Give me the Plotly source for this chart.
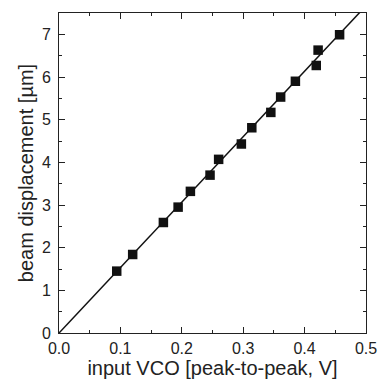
import plotly.graph_objects as go

vco = [0.094, 0.120, 0.170, 0.194, 0.214, 0.246, 0.260, 0.297, 0.314, 0.345, 0.361, 0.385, 0.419, 0.422, 0.457]
disp = [1.45, 1.84, 2.59, 2.95, 3.32, 3.70, 4.07, 4.43, 4.81, 5.17, 5.53, 5.90, 6.27, 6.63, 6.99]
fit_x = [0.0, 0.5]
fit_y = [0.0, 7.67]

fig = go.Figure()
fig.add_trace(go.Scatter(x=fit_x, y=fit_y, mode="lines",
                         line=dict(color="#111111", width=1.5), showlegend=False))
fig.add_trace(go.Scatter(x=vco, y=disp, mode="markers",
                         marker=dict(symbol="square", size=9.5, color="#111111",
                                     line=dict(width=0)), showlegend=False, cliponaxis=False))

font = dict(family="Liberation Sans, Arial, sans-serif", color="#222222")
fig.update_layout(
    width=389, height=386,
    margin=dict(l=59, r=18, t=12, b=53),
    paper_bgcolor="white", plot_bgcolor="white",
    font=dict(size=16, **font),
    xaxis=dict(range=[0, 0.5], tickvals=[0, 0.1, 0.2, 0.3, 0.4, 0.5],
               ticktext=["0.0", "0.1", "0.2", "0.3", "0.4", "0.5"],
               ticks="inside", ticklen=6, tickwidth=1, tickcolor="#222",
               minor=dict(dtick=0.05, ticks="inside", ticklen=3, tickcolor="#222"),
               showline=True, linecolor="#222", linewidth=1, mirror="ticks",
               showgrid=False, zeroline=False, ticklabelstandoff=1,
               title=dict(text="input VCO [peak-to-peak, V]", font=dict(size=20), standoff=1),
               tickfont=dict(size=16)),
    yaxis=dict(range=[0, 7.5], tickvals=[0, 1, 2, 3, 4, 5, 6, 7],
               ticks="inside", ticklen=6, tickwidth=1, tickcolor="#222",
               minor=dict(dtick=0.5, ticks="inside", ticklen=3, tickcolor="#222"),
               showline=True, linecolor="#222", linewidth=1, mirror="ticks",
               showgrid=False, zeroline=False, ticklabelstandoff=4,
               title=dict(text="beam displacement [µm]", font=dict(size=20), standoff=2),
               tickfont=dict(size=16)),
)
fig.write_html("out.html")
